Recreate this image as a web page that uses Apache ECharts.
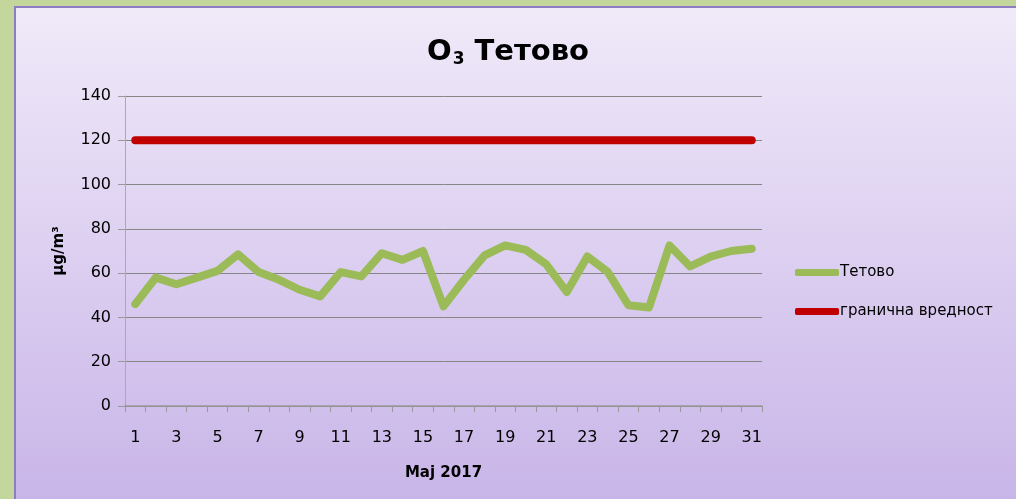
<!DOCTYPE html>
<html>
<head>
<meta charset="utf-8">
<script src="https://cdn.jsdelivr.net/npm/echarts@6/dist/echarts.min.js"></script>
<style>
  html, body { margin: 0; padding: 0; }
  #chart { width: 1016px; height: 499px; }
</style>
</head>
<body>
<div id="chart"></div>
<script>
const days = []
for (let d = 1; d <= 31; d++) days.push(String(d))

const tetovo = [46, 58, 55, 58, 61, 68.5, 60.5, 57, 52.5, 49.5, 60.5, 58.5, 69, 66, 70, 45,
  57, 68, 72.5, 70.5, 64, 51.5, 67.5, 60.5, 45.5, 44.5, 72.5, 63, 67.5, 70, 71]
const limit = [120, 120, 120, 120, 120, 120, 120, 120, 120, 120, 120, 120, 120, 120, 120, 120,
  120, 120, 120, 120, 120, 120, 120, 120, 120, 120, 120, 120, 120, 120, 120]

const font = "'Comic Sans MS', 'DejaVu Sans', sans-serif"
const chart = echarts.init(document.getElementById('chart'))

chart.setOption({
  backgroundColor: '#C3D69B',
  textStyle: { fontFamily: font, color: '#000' },
  graphic: [{
    type: 'rect',
    shape: { x: 15, y: 7, width: 1010, height: 500 },
    style: {
      fill: new echarts.graphic.LinearGradient(0, 0, 0, 1, [
        { offset: 0, color: '#F0EAF9' },
        { offset: 1, color: '#C8B4E8' }
      ]),
      stroke: '#8E7CC3',
      lineWidth: 2
    },
    z: -10
  }],
  title: {
    text: '{a|O}{s|3}{a| Тетово}',
    left: 'center',
    top: 32,
    textStyle: {
      rich: {
        a: { fontSize: 29, fontWeight: 'bold', fontFamily: font, color: '#000' },
        s: { fontSize: 17, fontWeight: 'bold', fontFamily: font, color: '#000', verticalAlign: 'bottom', padding: [14, 0, 0, 1] }
      }
    }
  },
  legend: {
    orient: 'vertical',
    left: 790,
    top: 260,
    itemGap: 24,
    itemWidth: 44,
    itemHeight: 7,
    icon: 'roundRect',
    textStyle: { fontSize: 15, fontFamily: font, color: '#000', padding: [0, 0, 0, -4] },
    data: ['Тетово', 'гранична вредност']
  },
  grid: { left: 125, right: 254, top: 96, bottom: 93 },
  xAxis: {
    type: 'category',
    data: days,
    boundaryGap: true,
    name: 'Maj 2017',
    nameLocation: 'middle',
    nameGap: 60,
    nameTextStyle: { fontSize: 15, fontWeight: 'bold', fontFamily: font, color: '#000' },
    axisLine: { lineStyle: { color: '#999', width: 1.5 } },
    axisTick: { show: true, interval: 0, length: 6, lineStyle: { color: '#999' } },
    axisLabel: { interval: 1, fontSize: 16, margin: 24, color: '#000', fontFamily: font }
  },
  yAxis: {
    type: 'value',
    min: 0,
    max: 140,
    interval: 20,
    name: 'µg/m³',
    nameLocation: 'middle',
    nameGap: 58,
    nameTextStyle: { fontSize: 15, fontWeight: 'bold', fontFamily: font, color: '#000' },
    axisLine: { show: true, lineStyle: { color: '#aaa' } },
    axisTick: { show: true, length: 7, lineStyle: { color: '#999' } },
    axisLabel: { fontSize: 16, margin: 14, color: '#000', fontFamily: font },
    splitLine: { lineStyle: { color: '#868686', width: 1 } }
  },
  series: [
    {
      name: 'Тетово',
      type: 'line',
      data: tetovo,
      symbol: 'none',
      color: '#9BBB59',
      lineStyle: { width: 8, color: '#9BBB59', cap: 'round', join: 'round' }
    },
    {
      name: 'гранична вредност',
      type: 'line',
      data: limit,
      symbol: 'none',
      color: '#C00000',
      lineStyle: { width: 8, color: '#C00000', cap: 'round', join: 'round' }
    }
  ]
})
</script>
</body>
</html>
